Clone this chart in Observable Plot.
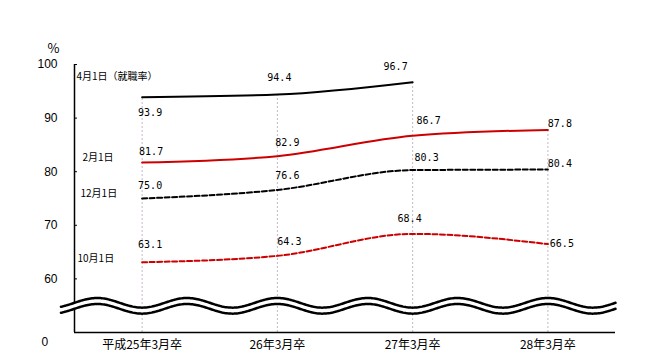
<!DOCTYPE html>
<html><head><meta charset="utf-8">
<script src="https://cdn.jsdelivr.net/npm/d3@7"></script>
<script src="https://cdn.jsdelivr.net/npm/@observablehq/plot@0.6"></script>
<style>
body{margin:0;background:#fff}
#chart{width:647px;height:360px}
</style>
</head><body><div id="chart"></div>
<script>
// ---- data ----
const categories = ["平成25年3月卒", "26年3月卒", "27年3月卒", "28年3月卒"];
const seriesNames = ["4月1日（就職率）", "2月1日", "12月1日", "10月1日"];
const apr1 = [93.9, 94.4, 96.7, null];
const feb1 = [81.7, 82.9, 86.7, 87.8];
const dec1 = [75.0, 76.6, 80.3, 80.4];
const oct1 = [63.1, 64.3, 68.4, 66.5];
const yTicks = [60, 70, 80, 90, 100];
const yUnit = "%";
const yZero = "0";

// ---- styles ----
const styles = [
  {stroke: "#000000", dash: null, labelOff: [[8, 16], [2, -17], [-17, -15]], nameOff: [2, -20]},
  {stroke: "#cc0000", dash: null, labelOff: [[9, -11], [10, -13], [16, -15], [12, -6]], nameOff: [8, -5]},
  {stroke: "#000000", dash: "5,2.5", labelOff: [[8, -13], [10, -14], [14, -12], [12, -6]], nameOff: [6, -5]},
  {stroke: "#cc0000", dash: "5,2.5", labelOff: [[8, -17], [12, -14], [-3, -15], [14, 0]], nameOff: [3, -3]}
];
const allValues = [apr1, feb1, dec1, oct1];
const series = allValues.map((vals, si) => ({
  name: seriesNames[si],
  rows: vals.map((v, i) => ({i, v})).filter(d => d.v != null),
  ...styles[si]
}));
const yMin = 50, yMax = 100;
const drops = categories.map((c, i) => ({i, top: d3.max(allValues, vals => vals[i] ?? -Infinity)}));

// axis-break wave (decoration)
const waveXs = d3.range(-0.6, 3.5001, 0.01);
const wave = waveXs.map(x => {
  const c = Math.cos(3 * Math.PI * (x - 1)) * 0.9;
  return {x, up: 55.54 + c, lo: 54.42 + c};
});

const numFont = "'DejaVu Sans Mono', monospace";
const axisFont = "'Liberation Sans Narrow', 'Liberation Sans', sans-serif";
const jpFont = "'Noto Sans CJK JP', sans-serif";

const marks = [
  Plot.ruleX(drops, {x: "i", y1: yMin, y2: "top", stroke: "#c4b8c8", strokeWidth: 1, strokeDasharray: "2,2"}),
  Plot.ruleY([yMin], {stroke: "#000", strokeWidth: 1.5}),
  Plot.ruleX([-0.5], {y1: yMin, y2: yMax, stroke: "#000", strokeWidth: 1.5}),
  ...series.map(s => Plot.line(s.rows, {x: "i", y: "v", stroke: s.stroke, strokeWidth: 2, strokeDasharray: s.dash, curve: "monotone-x"})),
  Plot.areaY(wave, {x: "x", y1: "lo", y2: "up", fill: "#fff"}),
  Plot.line(wave, {x: "x", y: "up", stroke: "#000", strokeWidth: 2.5}),
  Plot.line(wave, {x: "x", y: "lo", stroke: "#000", strokeWidth: 2.5}),
  ...series.flatMap(s => s.rows.map((r, k) => Plot.text([r], {
    x: "i", y: "v", text: d => d.v.toFixed(1), dx: s.labelOff[k][0], dy: s.labelOff[k][1],
    fontFamily: numFont, fontSize: 10, fill: "#000"
  }))),
  ...series.map(s => Plot.text([s.rows[0]], {
    y: "v", text: () => s.name, frameAnchor: "left", textAnchor: "start",
    dx: s.nameOff[0], dy: s.nameOff[1], fontFamily: jpFont, fontSize: 10, fill: "#000"
  })),
  Plot.axisY(yTicks, {tickSize: 0, tickPadding: 17, fontSize: 12, fontFamily: axisFont, fill: "#000"}),
  Plot.axisY(yTicks, {tickSize: 3, dx: 3, tickFormat: () => "", stroke: "#000"}),
  Plot.axisX(d3.range(categories.length), {tickFormat: i => categories[i], tickSize: 0, tickPadding: 8, fontSize: 12, fontFamily: jpFont, fill: "#000"}),
  Plot.text([yUnit], {frameAnchor: "top-left", dx: -27, dy: -21, fontSize: 13, fontFamily: jpFont, fill: "#000"}),
  Plot.text([yZero], {frameAnchor: "bottom-left", dx: -33, dy: 13, fontSize: 12, fontFamily: axisFont, fill: "#000"})
];

const chart = Plot.plot({
  width: 647, height: 360,
  marginLeft: 74, marginRight: 32, marginTop: 64, marginBottom: 28,
  style: {fontFamily: jpFont, background: "#fff", overflow: "visible"},
  x: {type: "linear", domain: [-0.5, 3.5]},
  y: {domain: [yMin, yMax]},
  marks
});
document.getElementById("chart").append(chart);
</script>
</body></html>
